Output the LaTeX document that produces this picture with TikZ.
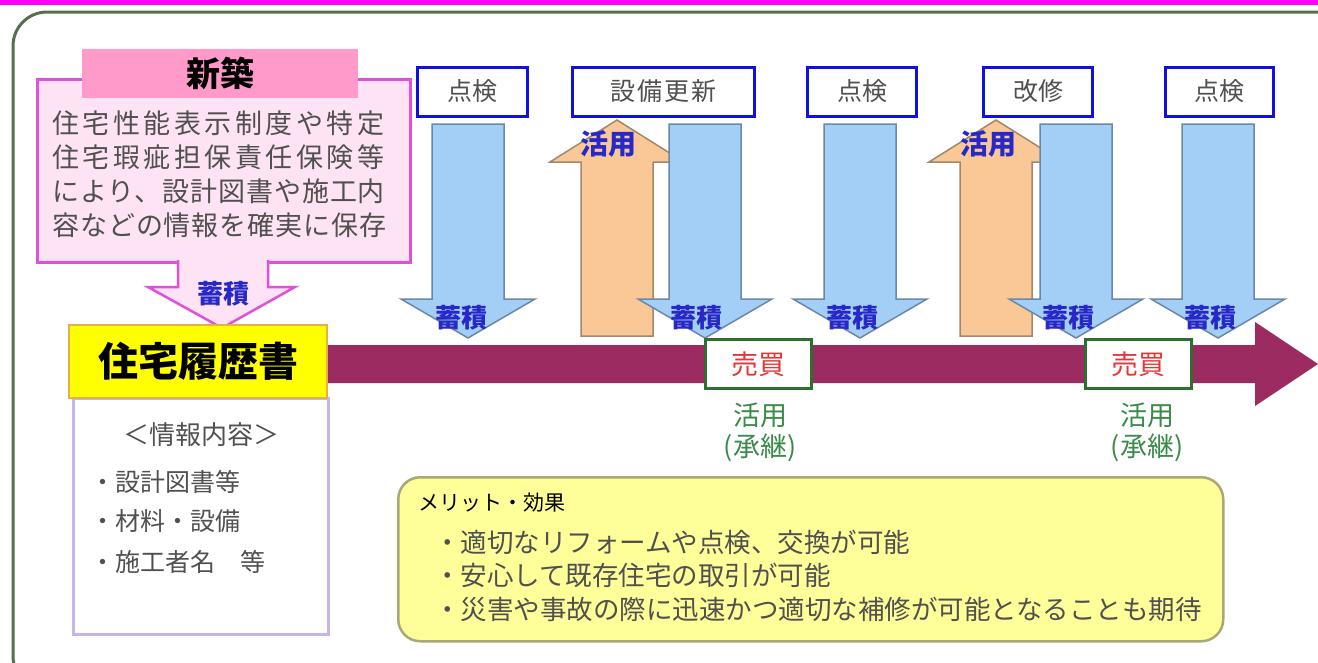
\documentclass[tikz,border=0pt]{standalone}
\usepackage{fontspec}
\setmainfont{Noto Sans CJK JP}
\definecolor{topline}{HTML}{FF00FF}
\definecolor{framec}{HTML}{56704E}
\definecolor{pinkfill}{HTML}{FDE3F3}
\definecolor{pinkline}{HTML}{E050D8}
\definecolor{tabfill}{HTML}{FF9ACB}
\definecolor{yelfill}{HTML}{FFFF00}
\definecolor{yelline}{HTML}{E8B040}
\definecolor{lavline}{HTML}{C8B4E8}
\definecolor{maroon}{HTML}{9C2B62}
\definecolor{boxblue}{HTML}{1010E0}
\definecolor{arrblue}{HTML}{A3CEF5}
\definecolor{arrblueline}{HTML}{6A88A8}
\definecolor{arrorange}{HTML}{FAC897}
\definecolor{arrorangeline}{HTML}{A08868}
\definecolor{lblblue}{HTML}{2828C8}
\definecolor{tradegreen}{HTML}{2E6E2E}
\definecolor{tradered}{HTML}{E53535}
\definecolor{usegreen}{HTML}{3A8A4A}
\definecolor{meritfill}{HTML}{FFFF99}
\definecolor{meritline}{HTML}{A8A878}
\definecolor{txtgray}{HTML}{505050}
\newcommand{\blockdown}[1]{%
  \filldraw[fill=arrblue,draw=arrblueline,line width=1.5pt,line join=miter]
   (#1-36,124) -- (#1+36,124) -- (#1+36,299) -- (#1+67,299) -- (#1,338)
   -- (#1-67,299) -- (#1-36,299) -- cycle;}
\newcommand{\blockup}[1]{%
  \filldraw[fill=arrorange,draw=arrorangeline,line width=1.5pt,line join=miter]
   (#1-36,336) -- (#1+36,336) -- (#1+36,162) -- (#1+67,162) -- (#1,120)
   -- (#1-67,162) -- (#1-36,162) -- cycle;}
\tikzset{
  graytxt/.style={text=txtgray,inner sep=0pt},
  topbox/.style={draw=boxblue,line width=3pt,fill=white,text=txtgray,inner sep=0pt,
    minimum height=49pt,font=\fontsize{25}{25}\selectfont},
  storelbl/.style={text=lblblue,inner sep=0pt,font=\fontsize{26}{26}\selectfont\bfseries},
  uselbl/.style={text=lblblue,inner sep=0pt,font=\fontsize{28}{28}\selectfont\bfseries},
  tradebox/.style={draw=tradegreen,line width=3pt,fill=white,text=tradered,inner sep=0pt,
    minimum width=106pt,minimum height=49pt,font=\fontsize{27}{27}\selectfont},
  greentxt/.style={text=usegreen,inner sep=0pt,font=\fontsize{27}{27}\selectfont},
}
\begin{document}
\begin{tikzpicture}[x=1pt,y=-1pt]
\useasboundingbox (0,0) rectangle (1318,662);
% outer frame
\begin{scope}
\clip (0,0) rectangle (1318,662);
\draw[framec,line width=3pt,rounded corners=34pt] (13,12) rectangle (1360,690);
\end{scope}
\fill[topline] (0,0) rectangle (1318,4.5);

% timeline arrow
\fill[maroon] (320,345) -- (1255,345) -- (1255,322) -- (1318,364) -- (1255,406)
  -- (1255,383) -- (320,383) -- cycle;

% new construction box
\node[draw=pinkline,line width=2.5pt,fill=pinkfill,minimum width=373pt,minimum height=183pt,
  anchor=north west,inner sep=0pt] (newbox) at (36,78) {};
\node[fill=tabfill,minimum width=276pt,minimum height=49pt,anchor=north west,inner sep=0pt,
  font=\fontsize{34}{34}\selectfont\bfseries] (newtab) at (82,49) {新築};
\node[graytxt,align=left,anchor=north west,font=\fontsize{27}{34}\selectfont] (newtext) at (52,111)
  {{\addfontfeature{LetterSpace=13}住宅性能表示制度や特定}\\
   {\addfontfeature{LetterSpace=13}住宅瑕疵担保責任保険等}\\
   {\addfontfeature{LetterSpace=3.5}により、設計図書や施工内}\\
   {\addfontfeature{LetterSpace=3.5}容などの情報を確実に保存}};
% pink down arrow
\fill[pinkfill] (178,258) -- (178,287) -- (148,287) -- (222,328) -- (295,287) -- (268,287) -- (268,258) -- cycle;
\draw[pinkline,line width=2.5pt,line join=miter] (178,260) -- (178,287) -- (148,287) -- (222,328) -- (295,287) -- (268,287) -- (268,260);
\node[storelbl] (store0) at (223,294) {蓄積};

% housing history box
\node[draw=lavline,line width=2.5pt,fill=white,minimum width=255pt,minimum height=236pt,
  anchor=north west,inner sep=0pt] (infobox) at (72,397) {};
\node[draw=yelline,line width=2pt,fill=yelfill,minimum width=258pt,minimum height=73pt,
  anchor=north west,inner sep=0pt,font=\fontsize{40}{40}\selectfont\bfseries] (history) at (68,324) {住宅履歴書};
\node[graytxt,font=\fontsize{26}{26}\selectfont] (infohead) at (201,435) {＜情報内容＞};
\node[graytxt,anchor=west,font=\fontsize{25}{25}\selectfont] (info1) at (90,482) {・設計図書等};
\node[graytxt,anchor=west,font=\fontsize{25}{25}\selectfont] (info2) at (90,521) {・材料・設備};
\node[graytxt,anchor=west,font=\fontsize{25}{25}\selectfont] (info3) at (90,562) {・施工者名　等};

% up arrows (use)
\blockup{617}
\blockup{996}
% down arrows (store)
\blockdown{468}
\blockdown{705}
\blockdown{860}
\blockdown{1076}
\blockdown{1218}

\node[uselbl] (use1) at (608,144) {活用};
\node[uselbl] (use2) at (988,144) {活用};
\node[storelbl] (store1) at (461,318) {蓄積};
\node[storelbl] (store2) at (696,318) {蓄積};
\node[storelbl] (store3) at (852,318) {蓄積};
\node[storelbl] (store4) at (1068,318) {蓄積};
\node[storelbl] (store5) at (1210,318) {蓄積};

% top event boxes
\node[topbox,minimum width=110pt] (ev1) at (472,91.5) {点検};
\node[topbox,minimum width=182pt] (ev2) at (663,91.5) {\addfontfeature{LetterSpace=8}設備更新};
\node[topbox,minimum width=109pt] (ev3) at (862,91.5) {点検};
\node[topbox,minimum width=109pt] (ev4) at (1038,91.5) {改修};
\node[topbox,minimum width=108pt] (ev5) at (1219,91.5) {点検};

% trade boxes
\node[tradebox] (trade1) at (758,364) {売買};
\node[tradebox] (trade2) at (1138,364) {売買};
\node[greentxt] (inherit1a) at (760,415) {活用};
\node[greentxt] (inherit1b) at (760,448) {(承継)};
\node[greentxt] (inherit2a) at (1147,415) {活用};
\node[greentxt] (inherit2b) at (1147,448) {(承継)};

% merit box
\node[draw=meritline,line width=2.5pt,fill=meritfill,rounded corners=22pt,minimum width=825pt,
  minimum height=164pt,anchor=north west,inner sep=0pt] (merit) at (397,476) {};
\node[anchor=west,inner sep=0pt,font=\fontsize{21}{21}\selectfont] (merithead) at (418,503) {メリット・効果};
\node[graytxt,anchor=west,font=\fontsize{26.5}{26.5}\selectfont] (merit1) at (434,542) {・適切なリフォームや点検、交換が可能};
\node[graytxt,anchor=west,font=\fontsize{26.5}{26.5}\selectfont] (merit2) at (434,575) {・安心して既存住宅の取引が可能};
\node[graytxt,anchor=west,font=\fontsize{26.5}{26.5}\selectfont] (merit3) at (434,609) {・災害や事故の際に迅速かつ適切な補修が可能となることも期待};
\end{tikzpicture}
\end{document}
